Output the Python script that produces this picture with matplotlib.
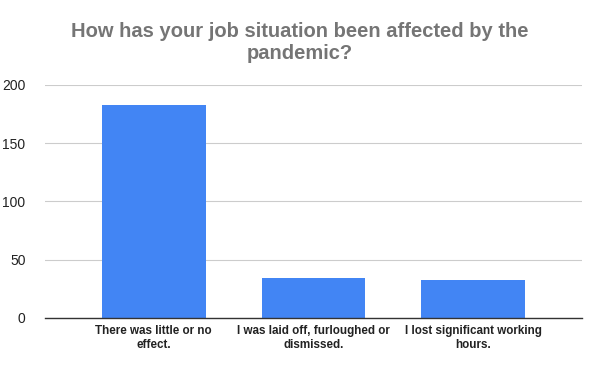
import matplotlib
matplotlib.use("Agg")
import matplotlib.pyplot as plt
import numpy as np

categories = ["There was little or no\neffect.",
              "I was laid off, furloughed or\ndismissed.",
              "I lost significant working\nhours."]
counts = [183, 34, 33]
yticks = [0, 50, 100, 150, 200]

plt.rcParams['font.family'] = ['Liberation Sans', 'DejaVu Sans']

fig = plt.figure(figsize=(6, 3.71), dpi=100)
ax = fig.add_axes([0.075, 0.1429, 0.895, 0.628])

x = np.arange(len(categories))
ax.bar(x, counts, width=0.65, color='#4285F4', zorder=3)

ax.set_xlim(-0.68, 2.68)
ax.set_ylim(0, 200)
ax.set_yticks(yticks)
ax.set_yticklabels([str(v) for v in yticks], fontsize=10, color='#222222')
ax.set_xticks(x)
ax.set_xticklabels(categories, fontsize=8.4, fontweight='bold', color='#222222',
                   linespacing=1.25)
ax.tick_params(axis='x', length=0, pad=5)
ax.tick_params(axis='y', length=0, pad=14)

ax.grid(axis='y', color='#cccccc', linewidth=0.8, zorder=0)
for s in ['top', 'right', 'left']:
    ax.spines[s].set_visible(False)
ax.spines['bottom'].set_color('#333333')
ax.spines['bottom'].set_linewidth(1)
ax.spines['bottom'].set_zorder(4)

fig.text(0.5, 0.886, "How has your job situation been affected by the\npandemic?",
         ha='center', va='center', fontsize=14.5, fontweight='bold',
         color='#757575', linespacing=1.22)

fig.savefig("out.png", dpi=100)
